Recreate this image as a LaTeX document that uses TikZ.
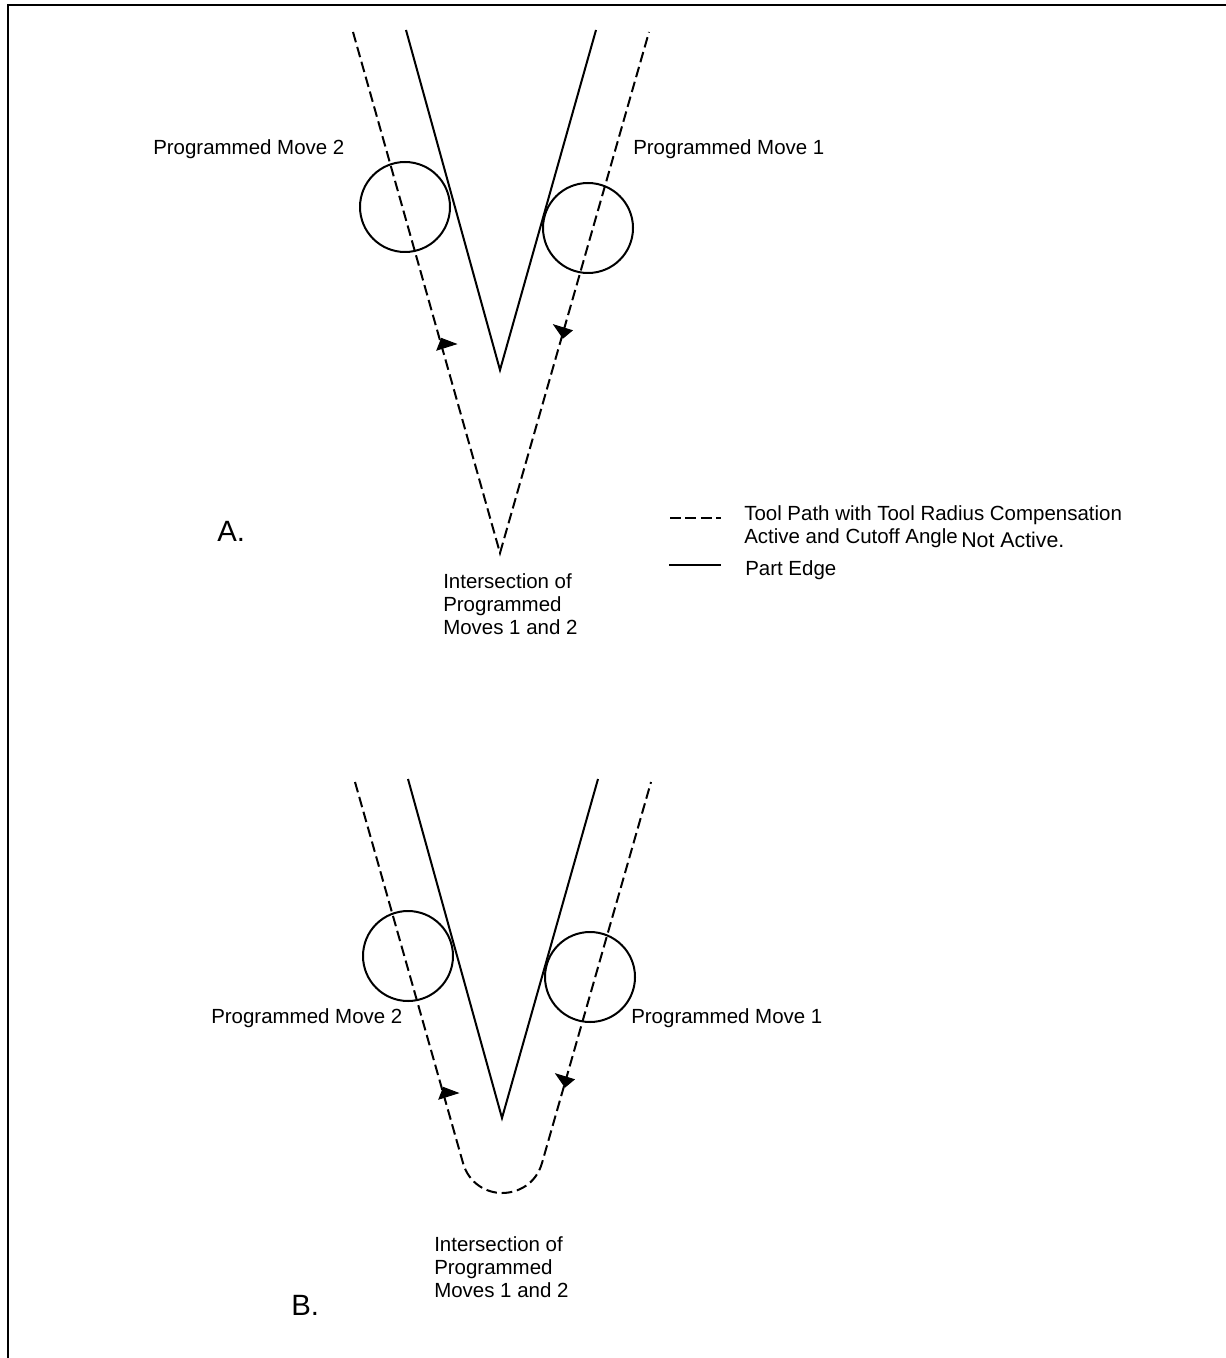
\documentclass[tikz,border=0pt]{standalone}
\usepackage{fontspec}
\setmainfont{Liberation Sans}
\tikzset{
  pathline/.style={line width=1.5pt, dash pattern=on 8pt off 3.6pt},
  edgeline/.style={line width=1.5pt},
  toolcircle/.style={circle, draw, line width=1.5pt, minimum size=67.5pt, inner sep=0pt},
  headfill/.style={fill=black, draw=black, line width=0.75pt, line join=miter},
  lbl/.style={inner sep=0pt, anchor=base west, font=\fontsize{15.35pt}{18pt}\selectfont},
  lblbig/.style={inner sep=0pt, anchor=base west, font=\fontsize{16pt}{19pt}\selectfont},
  letter/.style={inner sep=0pt, anchor=base west, font=\fontsize{22pt}{26pt}\selectfont}
}
\begin{document}
\begin{tikzpicture}[x=0.75pt,y=-0.75pt]
\useasboundingbox (0,0) rectangle (1226,1358);
% frame
\coordinate (fa) at (1226,5);
\coordinate (fb) at (8,5);
\coordinate (fc) at (8,1358);
\draw[line width=1.5pt] (fa) -- (fb) -- (fc);
% Part A
\coordinate (a1) at (353,32);
\coordinate (a2) at (500,553);
\coordinate (a3) at (649,32);
\coordinate (a4) at (406,30);
\coordinate (a5) at (500,370);
\coordinate (a6) at (596,30);
\draw[pathline] (a1) -- (a2) -- (a3);
\draw[edgeline] (a4) -- (a5) -- (a6);
\node[toolcircle] (ca1) at (405,207) {};
\node[toolcircle] (ca2) at (588,228) {};
\fill[headfill] (437,350) -- (456,344) -- (441.5,338.5) -- cycle;
\fill[headfill] (554,325) -- (572,330.5) -- (563,338) -- cycle;
\node[lbl] (t1) at (153,154.5) {Programmed Move 2};
\node[lbl] (t2) at (633,154.5) {Programmed Move 1};
\node[letter] (ta) at (217,541) {A.};
\node[lbl] (t3) at (443,588) {Intersection of};
\node[lbl] (t4) at (443,611) {Programmed};
\node[lbl] (t5) at (443,634) {Moves 1 and 2};
% Legend
\coordinate (l1) at (670,518);
\coordinate (l2) at (721,518);
\coordinate (l3) at (669,565);
\coordinate (l4) at (721,565);
\draw[pathline] (l1) -- (l2);
\draw[edgeline] (l3) -- (l4);
\node[lbl] (t6) at (744,520) {Tool Path with Tool Radius Compensation};
\node[lbl] (t7) at (744,543) {Active and Cutoff Angle};
\node[lblbig] (t8) at (961,547.5) {Not Active.};
\node[lbl] (t9) at (745,575) {Part Edge};
% Part B
\coordinate (b1) at (355,782);
\coordinate (b2) at (463,1163);
\coordinate (b3) at (502,1193);
\coordinate (b4) at (542,1163);
\coordinate (b5) at (651,782);
\coordinate (b6) at (408,779);
\coordinate (b7) at (502,1118);
\coordinate (b8) at (598,779);
\draw[pathline] (b1) -- (b2) .. controls (469,1184) and (487,1193) .. (b3) .. controls (518,1193) and (536,1184) .. (b4) -- (b5);
\draw[edgeline] (b6) -- (b7) -- (b8);
\node[toolcircle] (cb1) at (408,956) {};
\node[toolcircle] (cb2) at (590,977) {};
\fill[headfill] (439,1099) -- (458,1093) -- (443.5,1087.5) -- cycle;
\fill[headfill] (556,1074) -- (574,1079.5) -- (565,1087) -- cycle;
\node[lbl] (t10) at (211,1023) {Programmed Move 2};
\node[lbl] (t11) at (631,1023) {Programmed Move 1};
\node[lbl] (t12) at (434,1251) {Intersection of};
\node[lbl] (t13) at (434,1274) {Programmed};
\node[lbl] (t14) at (434,1297) {Moves 1 and 2};
\node[letter] (tb) at (291,1315) {B.};
\end{tikzpicture}
\end{document}
